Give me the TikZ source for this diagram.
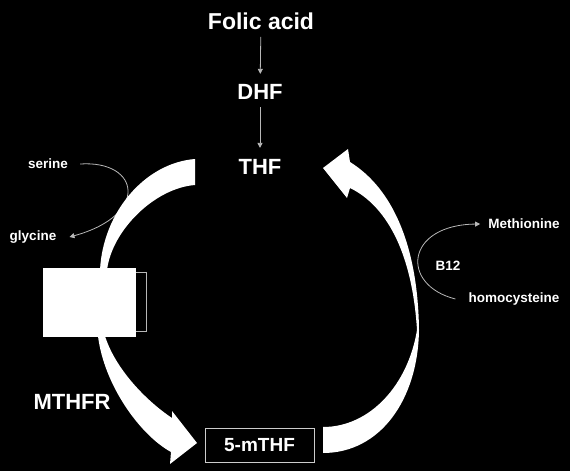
\documentclass[tikz,border=0pt]{standalone}
\usepackage{fontspec}
\setmainfont{Liberation Sans}
\usetikzlibrary{arrows.meta}

\begin{document}
\begin{tikzpicture}[x=1pt, y=-1pt,
  biglabel/.style={text=white, font=\fontsize{22}{26}\selectfont\bfseries},
  smalllabel/.style={text=white, font=\fontsize{13.5}{16}\selectfont\bfseries, inner sep=2pt},
  thinarrow/.style={draw=white!72!black, line width=0.8pt, -{Triangle[length=5pt, width=5pt]}},
  cyclearrow/.style={fill=white, draw=none}
  ]
  \fill[black] (0,0) rectangle (570,471);
  % labels
  \node[biglabel, font=\fontsize{23}{27}\selectfont\bfseries] (Folic) at (261,21) {Folic acid};
  \node[biglabel] (DHF) at (260,92) {DHF};
  \node[biglabel] (THF) at (260,167) {THF};
  \node[biglabel] (MTHFR) at (72,402) {MTHFR};
  \node[smalllabel] (Serine) at (48,164) {serine};
  \node[smalllabel] (Glycine) at (33,237) {glycine};
  \node[smalllabel] (Met) at (524,224) {Methionine};
  \node[smalllabel] (Btwelve) at (448,266) {B12};
  \node[smalllabel] (Hcy) at (514,299) {homocysteine};
  \draw[thinarrow, shorten <=4pt, shorten >=7pt] (Folic) -- (DHF);
  \draw[thinarrow, shorten <=4pt, shorten >=8pt] (DHF) -- (THF);
  \draw[thinarrow] ([xshift=10pt]Serine.east) .. controls (140,160) and (150,215) .. ([xshift=11pt]Glycine.east);
  \draw[thinarrow] ([xshift=-11pt]Hcy.west) .. controls (400,285) and (405,225) .. ([xshift=-6pt]Met.west);
  % cycle
  \fill[cyclearrow] (195,159) .. controls (145,163) and (103,212) .. (100,270)
    -- (98,336) .. controls (104,385) and (140,435) .. (171,452)
    -- (170,464) -- (197,443) -- (172,411) -- (172,418)
    .. controls (145,400) and (115,368) .. (105,336)
    -- (107,270) .. controls (112,230) and (155,188) .. (195,185) -- cycle;
  \fill[cyclearrow] (323,453) .. controls (380,453) and (418,400) .. (419,330)
    .. controls (418,250) and (395,190) .. (350,162)
    -- (348,149) -- (323,168) -- (347,198) -- (350,188)
    .. controls (385,205) and (412,250) .. (417,330)
    .. controls (408,385) and (370,427) .. (323,427) -- cycle;
  \node[draw=white!72!black, line width=0.8pt, minimum width=86pt, minimum height=59pt, inner sep=0pt] (Enzframe) at (103,301.5) {};
  \node[fill=white, minimum width=93pt, minimum height=69pt, inner sep=0pt] (Enzbox) at (89.5,302.5) {};
  \node[draw=white!80!black, line width=0.8pt, text=white, font=\fontsize{19}{22}\selectfont\bfseries,
    minimum width=109pt, minimum height=34pt, inner sep=0pt] (Mthf) at (259.5,445) {5-mTHF};
\end{tikzpicture}
\end{document}
